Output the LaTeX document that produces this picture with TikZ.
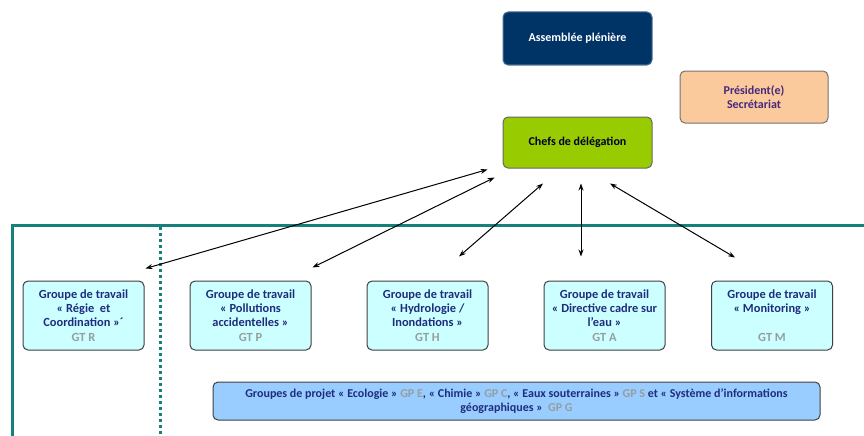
\documentclass[tikz,border=0pt]{standalone}
\usepackage{fontspec}
\setmainfont{Carlito}
\usepackage{tikz}
\usetikzlibrary{arrows.meta, positioning, calc}

\definecolor{navybox}{RGB}{0,51,102}
\definecolor{peachbox}{RGB}{250,201,156}
\definecolor{greenbox}{RGB}{153,204,0}
\definecolor{cyanbox}{RGB}{204,255,255}
\definecolor{bluebox}{RGB}{153,204,255}
\definecolor{txtnavy}{RGB}{30,45,125}
\definecolor{txtpurple}{RGB}{70,40,125}
\definecolor{codegray}{RGB}{150,158,158}
\definecolor{frameteal}{RGB}{22,128,122}

\tikzset{
  box/.style={rectangle, draw=black!75, line width=1pt, rounded corners=5pt, align=center,
    font=\bfseries\fontsize{12}{14.3}\selectfont},
  gtbox/.style={box, fill=cyanbox, text=txtnavy, minimum width=121pt, minimum height=69pt,
    font=\bfseries\fontsize{12.4}{14.3}\selectfont},
  arr/.style={{Stealth[length=7pt,width=5pt]}-{Stealth[length=7pt,width=5pt]}, line width=1pt},
}
\newcommand{\code}[1]{\textcolor{codegray}{#1}}

\begin{document}
\begin{tikzpicture}[x=1pt,y=-1pt]
      \useasboundingbox (0,0) rectangle (864,436);

      % Frame
      \draw[frameteal, line width=3pt] (12,436) -- (12,225) -- (866,225);
      \draw[frameteal, line width=3pt, dash pattern=on 3pt off 3pt] (160,227) -- (160,436);

      % Top
      \node[box, fill=navybox, draw=navybox!70, text=white, minimum width=149pt, minimum height=53pt] (asm) at (577.5,38.5) {Assemblée plénière};
      \node[box, fill=peachbox, draw=black!55, text=txtpurple, minimum width=148pt, minimum height=52pt] (pres) at (754,97) {Président(e)\\Secrétariat};
      \node[box, fill=greenbox, draw=black!60, text=black!85!blue, minimum width=149pt, minimum height=51pt] (chefs) at (577.5,142.5) {Chefs de délégation};

      % Groupes de travail
      \node[gtbox] (gtR) at (83.5,315.5) {Groupe de travail\\« Régie~ et\\Coordination »´\\\code{GT R}};
      \node[gtbox] (gtP) at (250.5,315.5) {Groupe de travail\\« Pollutions\\accidentelles »\\\code{GT P}};
      \node[gtbox] (gtH) at (427.5,315.5) {Groupe de travail\\« Hydrologie /\\Inondations »\\\code{GT H}};
      \node[gtbox] (gtA) at (604.5,315.5) {Groupe de travail\\« Directive cadre sur\\l’eau »\\\code{GT A}};
      \node[gtbox] (gtM) at (772,315.5) {Groupe de travail\\« Monitoring »\\\mbox{}\\\code{GT M}};

      % Groupes de projet
      \node[box, fill=bluebox, text=txtnavy, minimum width=607pt, minimum height=38pt] (gp) at (516.5,401)
        {Groupes de projet « Ecologie » \code{GP E}, « Chimie » \code{GP C}, « Eaux souterraines » \code{GP S} et « Système d’informations\\géographiques »~ \code{GP G}};

      % Arrows
      \draw[arr] ($(chefs.south west)+(-15,1)$) -- ($(gtR.north east)+(1,-12)$);
      \draw[arr] ($(chefs.south west)+(-8,9)$) -- ($(gtP.north east)+(1,-13)$);
      \draw[arr] ($(chefs.south)+(-34.5,15)$) -- ($(gtH.north)+(31.5,-24)$);
      \draw[arr] ($(chefs.south)+(3.5,15)$) -- ($(gtA.north)+(-23.5,-24)$);
      \draw[arr] ($(chefs.south)+(32.5,15)$) -- ($(gtM.north)+(-37,-23)$);
\end{tikzpicture}
\end{document}
